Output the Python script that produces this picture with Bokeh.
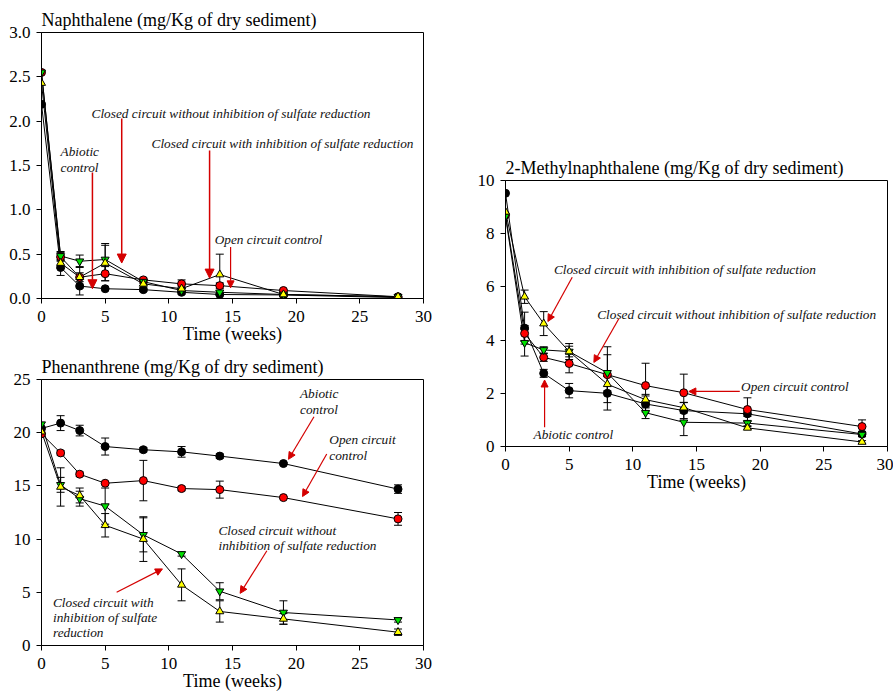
from bokeh.plotting import figure
from bokeh.layouts import row, column, Spacer
from bokeh.models import Arrow, NormalHead, FixedTicker, PrintfTickFormatter, Range1d
from bokeh.core.properties import value
from bokeh.embed import file_html
from bokeh.resources import INLINE

# ---------------- data ----------------
weeks = [0, 1.5, 3, 5, 8, 11, 14, 19, 28]
series_names = ["Abiotic control", "Open circuit control",
                "Closed circuit without inhibition", "Closed circuit with inhibition"]

naph_abiotic = [2.19, 0.35, 0.14, 0.11, 0.10, 0.07, 0.045, 0.04, 0.01]
naph_abiotic_err = [0, 0.09, 0.10, 0.0, 0.02, 0.02, 0.01, 0.0, 0.0]
naph_open = [2.55, 0.47, 0.24, 0.28, 0.21, 0.165, 0.145, 0.09, 0.02]
naph_open_err = [0, 0.05, 0.05, 0.08, 0.02, 0.045, 0.03, 0.01, 0.0]
naph_without = [2.55, 0.48, 0.42, 0.44, 0.19, 0.09, 0.07, 0.045, 0.02]
naph_without_err = [0, 0.05, 0.07, 0.18, 0.02, 0.02, 0.02, 0.01, 0.0]
naph_with = [2.43, 0.40, 0.24, 0.40, 0.165, 0.11, 0.27, 0.045, 0.02]
naph_with_err = [0, 0.06, 0.12, 0.20, 0.02, 0.03, 0.23, 0.01, 0.0]

phen_abiotic = [20.4, 20.9, 20.2, 18.7, 18.4, 18.2, 17.8, 17.1, 14.7]
phen_abiotic_err = [0, 0.7, 0.5, 0.8, 0.2, 0.5, 0.2, 0.1, 0.4]
phen_open = [19.9, 18.1, 16.1, 15.25, 15.5, 14.75, 14.65, 13.9, 11.9]
phen_open_err = [0, 0.2, 0.2, 0.0, 1.9, 0.2, 0.8, 0.1, 0.6]
phen_without = [20.8, 15.1, 13.8, 13.1, 10.4, 8.6, 5.1, 3.1, 2.4]
phen_without_err = [0, 0.7, 0.7, 1.7, 1.6, 0.2, 0.8, 1.1, 0.2]
phen_with = [20.1, 14.9, 14.1, 11.3, 10.0, 5.7, 3.2, 2.5, 1.25]
phen_with_err = [0, 1.8, 0.7, 1.1, 2.1, 1.5, 1.0, 0.5, 0.3]

mn_abiotic = [9.52, 4.45, 2.75, 2.1, 2.0, 1.6, 1.35, 1.23, 0.47]
mn_abiotic_err = [0, 0.6, 0.15, 0.27, 0.63, 0.3, 0.3, 0.1, 0.1]
mn_open = [8.7, 4.25, 3.35, 3.12, 2.7, 2.29, 2.02, 1.39, 0.75]
mn_open_err = [0, 0.3, 0.15, 0.35, 1.05, 0.84, 0.7, 0.44, 0.25]
mn_without = [8.65, 3.9, 3.63, 3.57, 2.77, 1.27, 0.91, 0.88, 0.45]
mn_without_err = [0, 0.5, 0.12, 0.2, 0.68, 0.22, 0.5, 0.1, 0.08]
mn_with = [8.82, 5.63, 4.62, 3.57, 2.34, 1.76, 1.46, 0.70, 0.17]
mn_with_err = [0, 0.25, 0.45, 0.3, 0.3, 0.2, 0.2, 0.05, 0.05]

x_ticks = [0, 5, 10, 15, 20, 25, 30]

FONT = "Liberation Serif"
RED = "#d40000"
marker_styles = [("circle", "black", 8), ("circle", "#ff0000", 8),
                 ("inverted_triangle", "#00e000", 8), ("triangle", "#ffff00", 8)]


def make_panel(title, y_end, y_ticks, fmt, series, borders):
    left, right, top, bottom = borders
    p = figure(frame_width=382, frame_height=266, output_backend="svg",
               toolbar_location=None, x_range=Range1d(0, 30), y_range=Range1d(0, y_end),
               min_border_left=left, min_border_right=right,
               min_border_top=top, min_border_bottom=bottom,
               title=title)
    p.title.text_font = FONT
    p.title.text_font_size = "18px"
    p.title.text_font_style = "normal"
    p.title.standoff = 5
    p.title.offset = 0
    p.title.text_color = "black"
    p.xgrid.visible = False
    p.ygrid.visible = False
    p.outline_line_color = "black"
    p.outline_line_width = 1
    p.background_fill_color = "white"
    p.border_fill_color = "white"
    for ax in (p.xaxis[0], p.yaxis[0]):
        ax.axis_line_color = "black"
        ax.major_tick_line_color = "black"
        ax.major_tick_out = 5
        ax.major_tick_in = 0
        ax.minor_tick_line_color = None
        ax.major_label_text_font = FONT
        ax.major_label_text_font_size = "17px"
        ax.major_label_text_color = "black"
    p.xaxis.major_label_standoff = 7
    p.yaxis.major_label_standoff = 6
    p.xaxis.ticker = FixedTicker(ticks=x_ticks)
    p.yaxis.ticker = FixedTicker(ticks=y_ticks)
    p.yaxis.formatter = PrintfTickFormatter(format=fmt)
    p.xaxis.axis_label = "Time (weeks)"
    p.xaxis.axis_label_text_font = FONT
    p.xaxis.axis_label_text_font_size = "18px"
    p.xaxis.axis_label_text_font_style = "normal"
    p.xaxis.axis_label_text_color = "black"
    p.xaxis.axis_label_standoff = -1

    for vals, errs in series:
        p.line(weeks, vals, line_color="black", line_width=1)
    for vals, errs in series:
        lo = [v - e for v, e in zip(vals, errs)]
        hi = [v + e for v, e in zip(vals, errs)]
        xs = [w for w, e in zip(weeks, errs) if e > 0]
        los = [l for l, e in zip(lo, errs) if e > 0]
        his = [h for h, e in zip(hi, errs) if e > 0]
        p.segment(xs, los, xs, his, line_color="black", line_width=1)
        p.scatter(xs + xs, los + his, marker="dash", size=8, line_color="black", line_width=1)
    for (vals, errs), (mk, col, sz) in zip(series, marker_styles):
        p.scatter(weeks, vals, marker=mk, size=sz, fill_color=col,
                  line_color="black", line_width=1)
    return p


def add_text(p, xs, ys, texts, size="13.3px"):
    p.text(x=xs, y=ys, text=texts, text_font=value(FONT), text_font_style="italic",
           text_font_size=size, text_baseline="middle", text_align="left",
           text_color="#111111")


def add_arrow(p, xs, ys, xe, ye, head=7, width=1.2):
    p.add_layout(Arrow(end=NormalHead(size=head, fill_color=RED, line_color=RED),
                       x_start=xs, y_start=ys, x_end=xe, y_end=ye,
                       line_color=RED, line_width=width))


# ---------- panel 1: naphthalene ----------
p1 = make_panel("Naphthalene (mg/Kg of dry sediment)", 3.0,
                [0, 0.5, 1.0, 1.5, 2.0, 2.5, 3.0], "%.1f",
                [(naph_abiotic, naph_abiotic_err), (naph_open, naph_open_err),
                 (naph_without, naph_without_err), (naph_with, naph_with_err)],
                (41, 49, 32, 51))
add_text(p1, [3.93, 8.64, 1.5, 1.5, 13.6],
         [2.09, 1.75, 1.66, 1.48, 0.665],
         ["Closed circuit without inhibition of sulfate reduction",
          "Closed circuit with inhibition of sulfate reduction",
          "Abiotic", "control", "Open circuit control"])
add_arrow(p1, 6.3, 2.03, 6.3, 0.40, head=9, width=1.5)
add_arrow(p1, 13.2, 1.67, 13.2, 0.23, head=9, width=1.5)
add_arrow(p1, 4.0, 1.42, 4.0, 0.11, head=9, width=1.5)
add_arrow(p1, 14.85, 0.58, 14.85, 0.12, head=7, width=1.2)

# ---------- panel 2: phenanthrene ----------
p2 = make_panel("Phenanthrene (mg/Kg of dry sediment)", 25,
                [0, 5, 10, 15, 20, 25], "%d",
                [(phen_abiotic, phen_abiotic_err), (phen_open, phen_open_err),
                 (phen_without, phen_without_err), (phen_with, phen_with_err)],
                (41, 49, 30, 48))
add_text(p2, [20.3, 20.3, 22.6, 22.6, 13.9, 13.9, 0.9, 0.9, 0.9],
         [23.7, 22.2, 19.4, 17.85, 10.8, 9.4, 4.0, 2.6, 1.2],
         ["Abiotic", "control", "Open circuit", "control",
          "Closed circuit without", "inhibition of sulfate reduction",
          "Closed  circuit  with", "inhibition  of  sulfate", "reduction"])
add_arrow(p2, 21.4, 21.5, 19.4, 17.5)
add_arrow(p2, 22.4, 18.0, 20.5, 14.0)
add_arrow(p2, 17.7, 8.9, 15.6, 4.9)
add_arrow(p2, 5.9, 5.0, 9.5, 7.2)

# ---------- panel 3: 2-methylnaphthalene ----------
p3 = make_panel("2-Methylnaphthalene (mg/Kg of dry sediment)", 10,
                [0, 2, 4, 6, 8, 10], "%d",
                [(mn_abiotic, mn_abiotic_err), (mn_open, mn_open_err),
                 (mn_without, mn_without_err), (mn_with, mn_with_err)],
                (33, 6, 28, 48))
add_text(p3, [3.8, 7.2, 18.5, 2.2],
         [6.65, 4.96, 2.25, 0.44],
         ["Closed circuit with inhibition of sulfate reduction",
          "Closed circuit without inhibition of sulfate reduction",
          "Open circuit control", "Abiotic control"])
add_arrow(p3, 5.24, 6.36, 3.33, 4.7)
add_arrow(p3, 8.9, 4.8, 6.94, 3.16)
add_arrow(p3, 18.4, 2.07, 14.4, 2.07)
add_arrow(p3, 3.07, 0.72, 3.07, 2.5)

layout = row(column(p1, p2, spacing=0), column(Spacer(height=152, width=10), p3, spacing=0), spacing=0)

open("out.html", "w").write(file_html(layout, INLINE))
